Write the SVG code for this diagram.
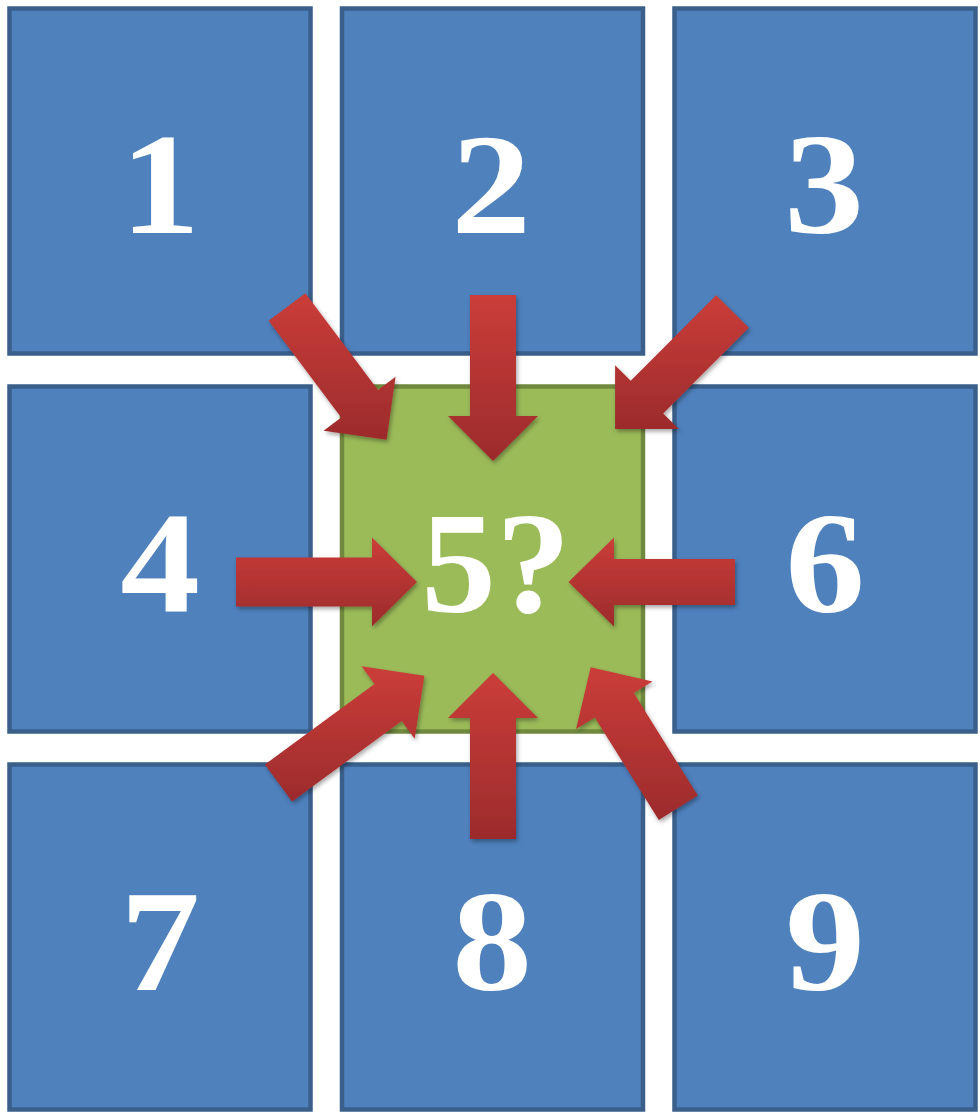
<svg xmlns="http://www.w3.org/2000/svg" width="980" height="1114" viewBox="0 0 980 1114">
<style>
.box{fill:#4f81bd;stroke:#3a5f8b;stroke-width:4.5}
.center{fill:#9bbb59;stroke:#71893f;stroke-width:4.5}
.num{font-family:"Liberation Serif","Times New Roman",serif;font-weight:bold;font-size:145px;fill:#ffffff;text-anchor:middle}
.arrow{fill:url(#redgrad);filter:url(#shadow)}
</style>
<defs>
<linearGradient id="redgrad" x1="0" y1="0" x2="0" y2="1">
<stop offset="0" stop-color="#cb3d39"/>
<stop offset="1" stop-color="#9c2b2c"/>
</linearGradient>
<filter id="shadow" x="-20%" y="-20%" width="140%" height="140%">
<feDropShadow dx="1.5" dy="2.5" stdDeviation="2" flood-color="#000" flood-opacity="0.35"/>
</filter>
</defs>
<rect width="980" height="1114" fill="#ffffff"/>
<g id="node1"><rect class="box" x="9.5" y="8.5" width="301" height="345"/><text class="num" transform="translate(160,233) scale(1.1,1)">1</text></g>
<g id="node2"><rect class="box" x="342" y="8.5" width="301" height="345"/><text class="num" transform="translate(491,233) scale(1.1,1)">2</text></g>
<g id="node3"><rect class="box" x="674.5" y="8.5" width="301" height="345"/><text class="num" transform="translate(824,233) scale(1.1,1)">3</text></g>
<g id="node4"><rect class="box" x="9.5" y="386.5" width="301" height="345"/><text class="num" transform="translate(160,612) scale(1.1,1)">4</text></g>
<g id="node5"><rect class="center" x="342" y="386.5" width="301" height="345"/><text class="num" transform="translate(496,612) scale(1.03,1)">5?</text></g>
<g id="node6"><rect class="box" x="674.5" y="386.5" width="301" height="345"/><text class="num" transform="translate(825,612) scale(1.1,1)">6</text></g>
<g id="node7"><rect class="box" x="9.5" y="764.5" width="301" height="345"/><text class="num" transform="translate(160,990) scale(1.1,1)">7</text></g>
<g id="node8"><rect class="box" x="342" y="764.5" width="301" height="345"/><text class="num" transform="translate(492,990) scale(1.1,1)">8</text></g>
<g id="node9"><rect class="box" x="674.5" y="764.5" width="301" height="345"/><text class="num" transform="translate(825,990) scale(1.1,1)">9</text></g>
<g id="connectors">
<polygon class="arrow" points="470,295 516,295 516,416 538,416 493,461 448,416 470,416"/>
<polygon class="arrow" points="470,839 516,839 516,718 538,718 493,673 448,718 470,718"/>
<polygon class="arrow" points="236,557.5 372,557.5 372,537.5 417,582 372,626.5 372,606.5 236,606.5"/>
<polygon class="arrow" points="735,559 614,559 614,537.5 568.5,582 614,626.5 614,605 735,605"/>
<polygon class="arrow" points="268.6,320.8 341.2,417.6 323.6,430.8 386.6,439.8 395.6,376.8 378,390 305.4,293.2"/>
<polygon class="arrow" points="716.2,295.2 630.7,380.8 615.1,365.3 615.1,428.9 678.8,428.9 663.2,413.4 748.8,327.8"/>
<polygon class="arrow" points="292.1,801.5 401.7,721 414.7,738.8 424.4,675.8 361.5,666.2 374.5,684 264.9,764.5"/>
<polygon class="arrow" points="697.8,795.6 633.8,693 652.5,681.4 590.7,667.3 576.1,729 594.8,717.4 658.8,820"/>
</g>
</svg>
